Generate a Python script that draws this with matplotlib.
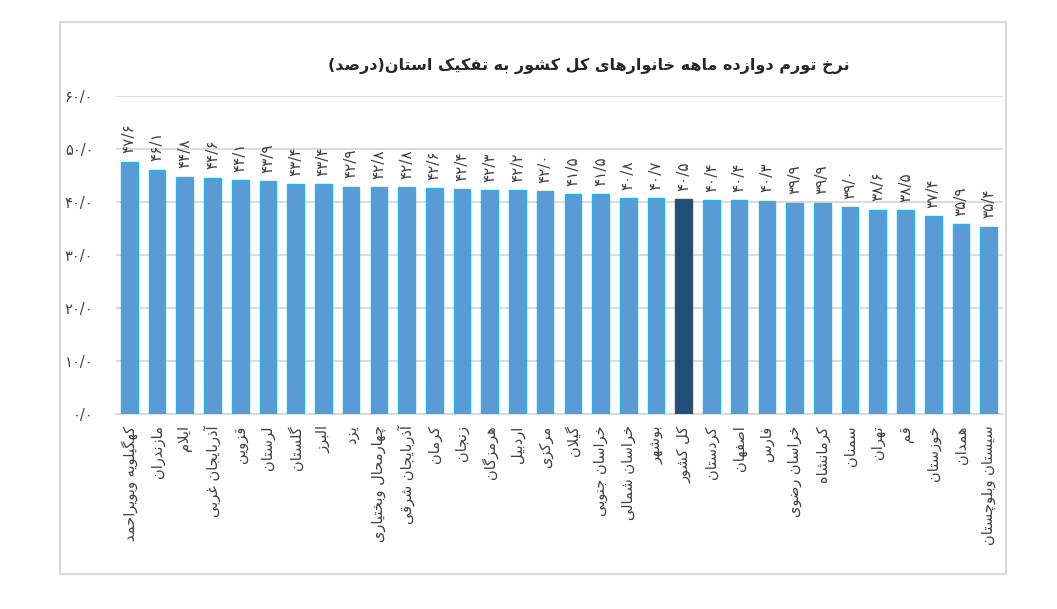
import matplotlib
matplotlib.use("Agg")
import matplotlib.pyplot as plt
from matplotlib.patches import Rectangle

# ---------------- data ----------------
provinces = [
    "کهگیلویه وبویراحمد", "مازندران", "ایلام", "آذربایجان غربی", "قزوین",
    "لرستان", "گلستان", "البرز", "یزد", "چهارمحال وبختیاری",
    "آذربایجان شرقی", "کرمان", "زنجان", "هرمزگان", "اردبیل", "مرکزی",
    "گیلان", "خراسان جنوبی", "خراسان شمالی", "بوشهر", "کل کشور",
    "کردستان", "اصفهان", "فارس", "خراسان رضوی", "کرمانشاه", "سمنان",
    "تهران", "قم", "خوزستان", "همدان", "سیستان وبلوچستان",
]
inflation = [
    47.6, 46.1, 44.8, 44.6, 44.1, 43.9, 43.4, 43.4, 42.9, 42.8,
    42.8, 42.6, 42.4, 42.3, 42.2, 42.0, 41.5, 41.5, 40.8, 40.7,
    40.5, 40.4, 40.4, 40.3, 39.9, 39.9, 39.0, 38.6, 38.5, 37.4,
    35.9, 35.4,
]
highlight = "کل کشور"
y_ticks = [0, 10, 20, 30, 40, 50, 60]
title = "نرخ تورم دوازده ماهه خانوارهای کل کشور به تفکیک استان(درصد)"

# ---------------- Persian shaping (presentation forms) ----------------
# letter: (isolated, final, initial, medial) ; None for right-joining letters
FORMS = {
    "ا": (0xFE8D, 0xFE8E, None, None),
    "آ": (0xFE81, 0xFE82, None, None),
    "ب": (0xFE8F, 0xFE90, 0xFE91, 0xFE92),
    "پ": (0xFB56, 0xFB57, 0xFB58, 0xFB59),
    "ت": (0xFE95, 0xFE96, 0xFE97, 0xFE98),
    "ث": (0xFE99, 0xFE9A, 0xFE9B, 0xFE9C),
    "ج": (0xFE9D, 0xFE9E, 0xFE9F, 0xFEA0),
    "چ": (0xFB7A, 0xFB7B, 0xFB7C, 0xFB7D),
    "ح": (0xFEA1, 0xFEA2, 0xFEA3, 0xFEA4),
    "خ": (0xFEA5, 0xFEA6, 0xFEA7, 0xFEA8),
    "د": (0xFEA9, 0xFEAA, None, None),
    "ذ": (0xFEAB, 0xFEAC, None, None),
    "ر": (0xFEAD, 0xFEAE, None, None),
    "ز": (0xFEAF, 0xFEB0, None, None),
    "ژ": (0xFB8A, 0xFB8B, None, None),
    "س": (0xFEB1, 0xFEB2, 0xFEB3, 0xFEB4),
    "ش": (0xFEB5, 0xFEB6, 0xFEB7, 0xFEB8),
    "ص": (0xFEB9, 0xFEBA, 0xFEBB, 0xFEBC),
    "ض": (0xFEBD, 0xFEBE, 0xFEBF, 0xFEC0),
    "ط": (0xFEC1, 0xFEC2, 0xFEC3, 0xFEC4),
    "ظ": (0xFEC5, 0xFEC6, 0xFEC7, 0xFEC8),
    "ع": (0xFEC9, 0xFECA, 0xFECB, 0xFECC),
    "غ": (0xFECD, 0xFECE, 0xFECF, 0xFED0),
    "ف": (0xFED1, 0xFED2, 0xFED3, 0xFED4),
    "ق": (0xFED5, 0xFED6, 0xFED7, 0xFED8),
    "ک": (0xFB8E, 0xFB8F, 0xFB90, 0xFB91),
    "گ": (0xFB92, 0xFB93, 0xFB94, 0xFB95),
    "ل": (0xFEDD, 0xFEDE, 0xFEDF, 0xFEE0),
    "م": (0xFEE1, 0xFEE2, 0xFEE3, 0xFEE4),
    "ن": (0xFEE5, 0xFEE6, 0xFEE7, 0xFEE8),
    "و": (0xFEED, 0xFEEE, None, None),
    "ه": (0xFEE9, 0xFEEA, 0xFEEB, 0xFEEC),
    "ی": (0xFBFC, 0xFBFD, 0xFBFE, 0xFBFF),
}
LAM_ALEF = {"ا": (0xFEFB, 0xFEFC), "آ": (0xFEF5, 0xFEF6)}
MIRROR = {"(": ")", ")": "("}


def dual(ch):
    return ch in FORMS and FORMS[ch][2] is not None


def joining(ch):
    return ch in FORMS


def shape(text):
    chars = list(text)
    out = []
    i = 0
    n = len(chars)
    while i < n:
        c = chars[i]
        prev = chars[i - 1] if i > 0 else None
        if c not in FORMS:
            out.append(MIRROR.get(c, c))
            i += 1
            continue
        jp = prev is not None and dual(prev)
        if c == "ل" and i + 1 < n and chars[i + 1] in LAM_ALEF:
            iso, fin = LAM_ALEF[chars[i + 1]]
            out.append(chr(fin if jp else iso))
            i += 2
            continue
        nxt = chars[i + 1] if i + 1 < n else None
        jn = dual(c) and nxt is not None and joining(nxt)
        iso, fin, ini, med = FORMS[c]
        if jp and jn:
            code = med
        elif jp:
            code = fin
        elif jn:
            code = ini
        else:
            code = iso
        out.append(chr(code))
        i += 1
    return "".join(reversed(out))


FA_DIGITS = str.maketrans("0123456789.", "۰۱۲۳۴۵۶۷۸۹/")


def fa_num(v):
    return f"{v:.1f}".translate(FA_DIGITS)


# ---------------- figure ----------------
plt.rcParams["font.family"] = ["DejaVu Sans"]
fig = plt.figure(figsize=(10.57, 6.09), dpi=100)
fig.patch.set_facecolor("white")

# outer chart frame
fig.patches.append(Rectangle((60 / 1057, 1 - 574 / 609), 946 / 1057, 552 / 609,
                             transform=fig.transFigure, fill=False,
                             edgecolor="#D9D9D9", linewidth=1.5, zorder=0))

ax = fig.add_axes([115.5 / 1057, 1 - 414.3 / 609, 887 / 1057, 318.3 / 609])
x = list(range(len(provinces)))
colors = ["#1F4E79" if p == highlight else "#5B9BD5" for p in provinces]
edges = ["#3B4E6E" if p == highlight else "#1FB5EE" for p in provinces]
bars = ax.bar(x, inflation, width=0.6, color=colors, edgecolor=edges,
              linewidth=1.0, zorder=3)

ax.set_xlim(-0.5, len(provinces) - 0.5)
ax.set_ylim(0, 60)
ax.set_yticks(y_ticks)
ax.set_yticklabels([fa_num(float(t)) for t in y_ticks], fontsize=10.5,
                   color="#404040")
ax.yaxis.grid(True, color="#D9D9D9", linewidth=1.3, zorder=0)
ax.set_axisbelow(True)
for s in ["top", "right", "left"]:
    ax.spines[s].set_visible(False)
ax.spines["bottom"].set_color("#D9D9D9")
ax.spines["bottom"].set_linewidth(1.3)
ax.tick_params(axis="both", length=0)
ax.tick_params(axis="y", pad=16)

ax.set_xticks(x)
ax.set_xticklabels([shape(p) for p in provinces], rotation=90, fontsize=10.5,
                   color="#404040", va="top", ha="center")
ax.tick_params(axis="x", pad=8)

for xi, v in zip(x, inflation):
    ax.annotate(fa_num(v), (xi, v), xytext=(0, 6), textcoords="offset points",
                rotation=90, ha="center", va="bottom", fontsize=11,
                color="#404040")

fig.text(589 / 1057, 1 - 66 / 609, shape(title), ha="center", va="center",
         fontsize=11.5, fontweight="bold", color="#262626")

fig.savefig("out.png", dpi=100, facecolor="white")
